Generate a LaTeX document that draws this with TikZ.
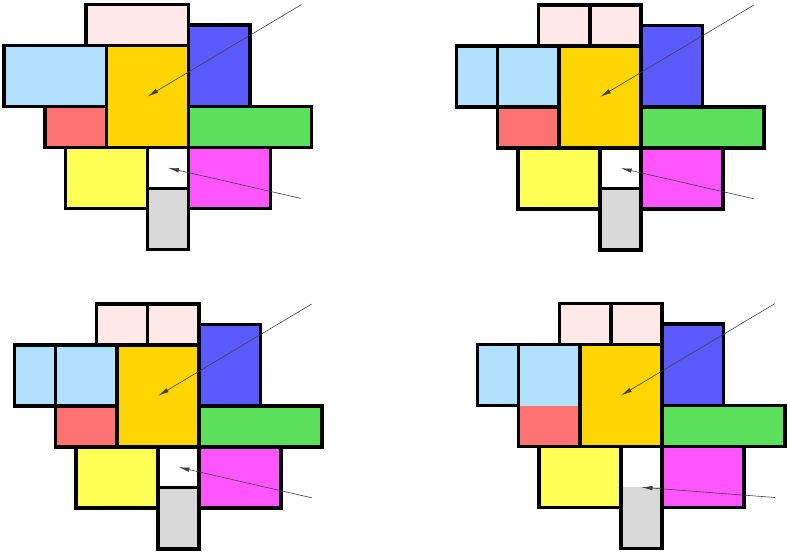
\documentclass[tikz,border=0pt]{standalone}
\usetikzlibrary{arrows.meta}
\definecolor{cPink}{HTML}{FFE8E8}
\definecolor{cLB}{HTML}{B0E0FC}
\definecolor{cGold}{HTML}{FFD500}
\definecolor{cBlue}{HTML}{5A5AFF}
\definecolor{cRed}{HTML}{FF7272}
\definecolor{cGreen}{HTML}{5AE05A}
\definecolor{cYellow}{HTML}{FFFF55}
\definecolor{cMag}{HTML}{FF55FF}
\definecolor{cGray}{HTML}{D8D8D8}
\tikzset{
  box/.style={draw=black, line width=3.5pt, inner sep=0pt, outer sep=0pt, rectangle},
  arr/.style={draw=black!75, line width=0.6pt, -{Latex[length=11pt,width=4.5pt]}}
}
\newcommand\bx[7][]{\node[box, fill=#7, minimum width={(#5-#3)*20.5pt}, minimum height={(#6-#4)*20.4pt}, #1] (#2) at ({\ox+(#3+#5)/2},{\oy+(#4+#6)/2}) {};}
\begin{document}
\begin{tikzpicture}[x=20.5pt, y=-20.4pt]
\path[use as bounding box] (0,0) rectangle (38.537,27.157);
% ---------- panel 1 ----------
\def\ox{0.195}\def\oy{0.230}
\bx{a-pink}{4}{0}{9}{2}{cPink}
\bx{a-blue}{9}{1}{12}{5}{cBlue}
\bx{a-lb}{0}{2}{5}{5}{cLB}
\bx{a-gold}{5}{2}{9}{7}{cGold}
\bx{a-red}{2}{5}{5}{7}{cRed}
\bx{a-green}{9}{5}{15}{7}{cGreen}
\bx{a-yel}{3}{7}{7}{10}{cYellow}
\bx{a-white}{7}{7}{9}{9}{white}
\bx{a-mag}{9}{7}{13}{10}{cMag}
\bx{a-gray}{7}{9}{9}{12}{cGray}
\coordinate (a-s1) at ({\ox+14.5},{\oy+0});
\coordinate (a-s2) at ({\ox+14.5},{\oy+9.5});
\draw[arr] (a-s1) -- (a-gold.center);
\draw[arr] (a-s2) -- (a-white.center);
% ---------- panel 2 ----------
\def\ox{22.278}\def\oy{0.245}
\bx{b-pink1}{4}{0}{6.5}{2}{cPink}
\bx{b-pink2}{6.5}{0}{9}{2}{cPink}
\bx{b-blue}{9}{1}{12}{5}{cBlue}
\bx{b-lb1}{0}{2}{2}{5}{cLB}
\bx{b-lb2}{2}{2}{5}{5}{cLB}
\bx{b-gold}{5}{2}{9}{7}{cGold}
\bx{b-red}{2}{5}{5}{7}{cRed}
\bx{b-green}{9}{5}{15}{7}{cGreen}
\bx{b-yel}{3}{7}{7}{10}{cYellow}
\bx{b-white}{7}{7}{9}{9}{white}
\bx{b-mag}{9}{7}{13}{10}{cMag}
\bx{b-gray}{7}{9}{9}{12}{cGray}
\coordinate (b-s1) at ({\ox+14.5},{\oy+0});
\coordinate (b-s2) at ({\ox+14.5},{\oy+9.5});
\draw[arr] (b-s1) -- (b-gold.center);
\draw[arr] (b-s2) -- (b-white.center);
% ---------- panel 3 ----------
\def\ox{0.707}\def\oy{14.902}
\bx{c-pink1}{4}{0}{6.5}{2}{cPink}
\bx{c-pink2}{6.5}{0}{9}{2}{cPink}
\bx{c-blue}{9}{1}{12}{5}{cBlue}
\bx{c-lb1}{0}{2}{2}{5}{cLB}
\bx{c-lb2}{2}{2}{5}{5}{cLB}
\bx{c-gold}{5}{2}{9}{7}{cGold}
\bx{c-red}{2}{5}{5}{7}{cRed}
\bx{c-green}{9}{5}{15}{7}{cGreen}
\bx{c-yel}{3}{7}{7}{10}{cYellow}
\bx{c-white}{7}{7}{9}{9}{white}
\bx{c-mag}{9}{7}{13}{10}{cMag}
\bx{c-gray}{7}{9}{9}{12}{cGray}
\coordinate (c-s1) at ({\ox+14.5},{\oy+0});
\coordinate (c-s2) at ({\ox+14.5},{\oy+9.5});
\draw[arr] (c-s1) -- (c-gold.center);
\draw[arr] (c-s2) -- (c-white.center);
% ---------- panel 4 ----------
\def\ox{23.293}\def\oy{14.887}
\bx{d-pink1}{4}{0}{6.5}{2}{cPink}
\bx{d-pink2}{6.5}{0}{9}{2}{cPink}
\bx{d-blue}{9}{1}{12}{5}{cBlue}
\bx{d-lb1}{0}{2}{2}{5}{cLB}
\bx[path picture={\fill[cRed] (path picture bounding box.south west) rectangle ([yshift=40.8pt]path picture bounding box.south east);}]{d-lbred}{2}{2}{5}{7}{cLB}
\bx{d-gold}{5}{2}{9}{7}{cGold}
\bx{d-green}{9}{5}{15}{7}{cGreen}
\bx{d-yel}{3}{7}{7}{10}{cYellow}
\bx[path picture={\fill[cGray] (path picture bounding box.south west) rectangle ([yshift=61.2pt]path picture bounding box.south east);}]{d-wg}{7}{7}{9}{12}{white}
\bx{d-mag}{9}{7}{13}{10}{cMag}
\coordinate (d-s1) at ({\ox+14.5},{\oy+0});
\coordinate (d-s2) at ({\ox+14.5},{\oy+9.5});
\draw[arr] (d-s1) -- (d-gold.center);
\draw[arr] (d-s2) -- ([yshift=61.2pt]d-wg.south);
\end{tikzpicture}
\end{document}
